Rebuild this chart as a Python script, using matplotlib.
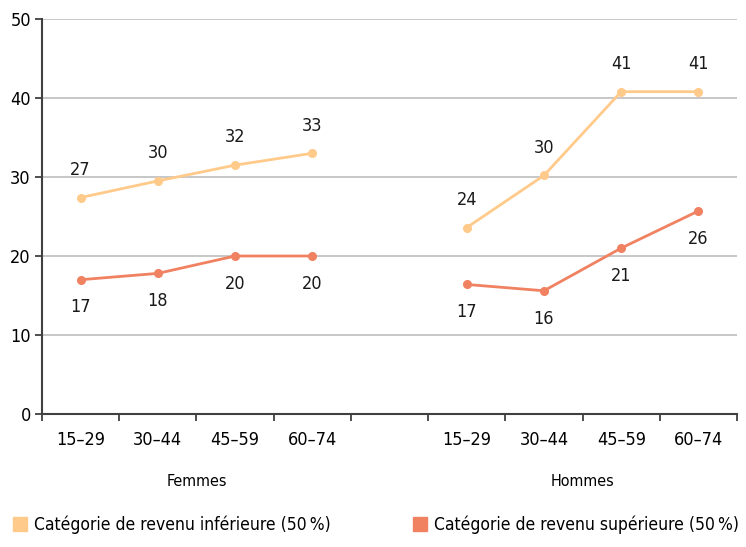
import matplotlib
matplotlib.use("Agg")
import matplotlib.pyplot as plt
from matplotlib.lines import Line2D

# data
ages = ["15–29", "30–44", "45–59", "60–74"]
groups = ["Femmes", "Hommes"]
femmes_inf = [27.4, 29.5, 31.5, 33.0]
femmes_sup = [17.0, 17.8, 20.0, 20.0]
hommes_inf = [23.6, 30.2, 40.8, 40.8]
hommes_sup = [16.4, 15.6, 21.0, 25.7]
labels_inf = [27, 30, 32, 33, 24, 30, 41, 41]
labels_sup = [17, 18, 20, 20, 17, 16, 21, 26]
series_names = ["Catégorie de revenu inférieure (50\u2009%)",
                "Catégorie de revenu supérieure (50\u2009%)"]

c_inf = "#FFCA8A"
c_sup = "#F08161"

# the reference text is narrow, use the condensed DejaVu face
plt.rcParams["font.family"] = ["DejaVu Sans"]
plt.rcParams["font.stretch"] = "condensed"

fig = plt.figure(figsize=(7.46, 5.47), dpi=100)
ax = fig.add_axes([0.0563, 0.2431, 0.9317, 0.7222])

x_f = [0, 1, 2, 3]
x_h = [5, 6, 7, 8]

for xs, yi, ys in [(x_f, femmes_inf, femmes_sup), (x_h, hommes_inf, hommes_sup)]:
    ax.plot(xs, yi, color=c_inf, lw=2, marker="o", ms=5.5, zorder=3)
    ax.plot(xs, ys, color=c_sup, lw=2, marker="o", ms=5.5, zorder=3)

xs_all = x_f + x_h
for x, y, lab in zip(xs_all, femmes_inf + hommes_inf, labels_inf):
    ax.annotate(str(lab), (x, y), xytext=(0, 20), textcoords="offset points",
                ha="center", va="center", fontsize=13, color="#1a1a1a")
for x, y, lab in zip(xs_all, femmes_sup + hommes_sup, labels_sup):
    ax.annotate(str(lab), (x, y), xytext=(0, -20), textcoords="offset points",
                ha="center", va="center", fontsize=13, color="#1a1a1a")

ax.set_xlim(-0.5, 8.5)
ax.set_ylim(0, 50)
ax.set_yticks(range(0, 51, 10))
ax.yaxis.grid(True, color="#BDBDBD", lw=1.2)
ax.set_axisbelow(True)

ax.set_xticks(xs_all)
ax.set_xticklabels(ages + ages)
ax.set_xticks([i + 0.5 for i in range(-1, 9)], minor=True)
ax.tick_params(axis="x", which="major", length=0, pad=12, labelsize=13)
ax.tick_params(axis="x", which="minor", length=5, width=1.3, color="#404040")
ax.tick_params(axis="y", length=5, width=1.3, color="#404040", labelsize=13, pad=3)

for s in ["top", "right"]:
    ax.spines[s].set_visible(False)
for s in ["left", "bottom"]:
    ax.spines[s].set_color("#404040")
    ax.spines[s].set_linewidth(1.5)

ax.text(1.5, -0.17, groups[0], transform=ax.get_xaxis_transform(),
        ha="center", va="center", fontsize=11.5)
ax.text(6.5, -0.17, groups[1], transform=ax.get_xaxis_transform(),
        ha="center", va="center", fontsize=11.5)

colors = [c_inf, c_sup]
for i, x0 in enumerate([-0.006, 0.53]):
    h = Line2D([], [], ls="none", marker="s", ms=10, color=colors[i])
    fig.legend([h], [series_names[i]], loc="lower left",
               bbox_to_anchor=(x0, -0.005), frameon=False, fontsize=12.5,
               handletextpad=0.3, handlelength=1.0)

fig.savefig("out.png", dpi=100)
